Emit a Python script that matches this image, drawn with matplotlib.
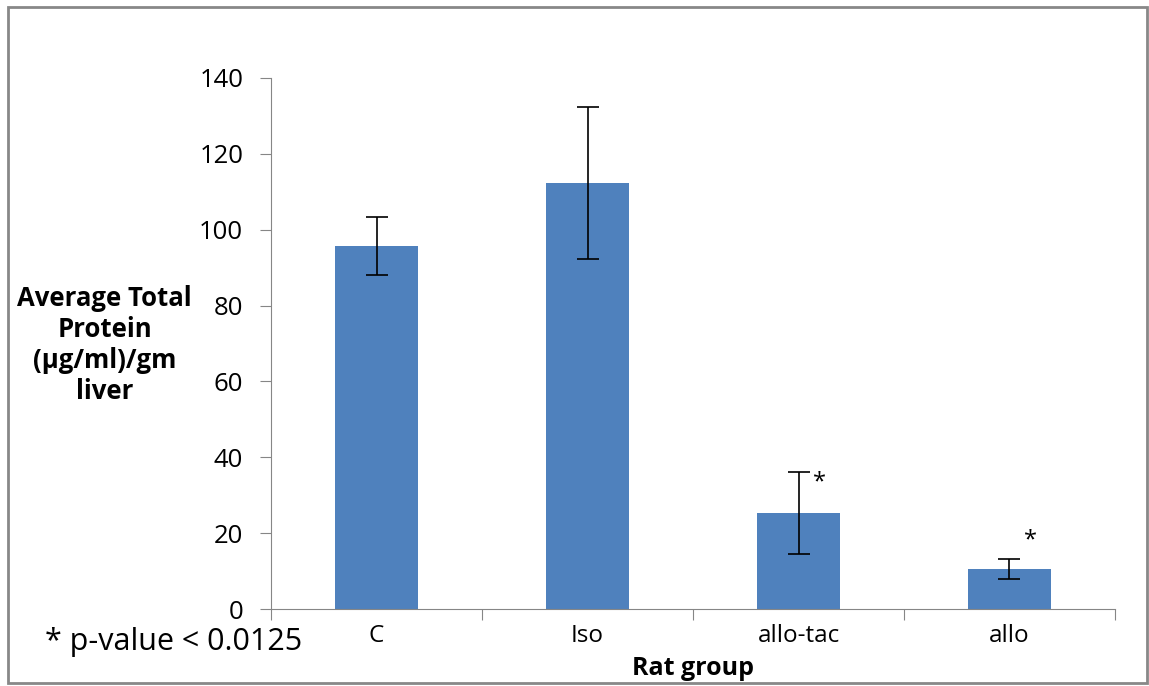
import matplotlib.pyplot as plt
import numpy as np
from matplotlib.patches import Rectangle

plt.rcParams['font.family'] = ['Open Sans', 'DejaVu Sans']

groups = ["C", "Iso", "allo-tac", "allo"]
means = [95.7, 112.3, 25.3, 10.5]
errors = [7.7, 20.0, 10.8, 2.7]
star_groups = [2, 3]
star_y = [33.5, 18.2]

fig = plt.figure(figsize=(11.49, 6.86), dpi=100)
ax = fig.add_axes([0.2359, 0.1122, 0.9704 - 0.2359, 0.8863 - 0.1122])

x_pos = np.arange(len(groups))
ax.bar(x_pos, means, 0.39, color="#4F81BD", zorder=2)
ax.errorbar(x_pos, means, yerr=errors, fmt="none", ecolor="black",
            elinewidth=1.2, capsize=8, capthick=1.2, zorder=3)

for g, y in zip(star_groups, star_y):
    ax.text(g + 0.1, y, "*", ha="center", va="center", fontsize=17)

ax.set_xlim(-0.5, 3.5)
ax.set_ylim(0, 140)
ax.set_yticks(range(0, 141, 20))
ax.set_xticks(np.arange(-0.5, 4, 1))
ax.set_xticklabels([])
ax.set_xticks(x_pos, minor=True)
ax.set_xticklabels(groups, minor=True, fontsize=17.5)
ax.tick_params(axis="x", which="minor", length=0, pad=11)
ax.tick_params(axis="x", which="major", length=8, color="#868686", direction="out")
ax.tick_params(axis="y", length=8, color="#868686", labelsize=18.5, pad=12)

for s in ["top", "right"]:
    ax.spines[s].set_visible(False)
for s in ["left", "bottom"]:
    ax.spines[s].set_color("#868686")

fig.text(0.091, 0.497, "Average Total\nProtein\n(µg/ml)/gm\nliver", ha="center", va="center",
         fontsize=18.5, fontweight="bold", linespacing=1.2)
fig.text(0.039, 0.064, "* p-value < 0.0125", ha="left", va="center", fontsize=22)
fig.text(0.603, 0.026, "Rat group", ha="center", va="center", fontsize=18, fontweight="bold")

fig.patches.append(Rectangle((8 / 1149, 3 / 686), 1139 / 1149, 676 / 686, transform=fig.transFigure,
                             fill=False, edgecolor="#888888", linewidth=2))

fig.savefig("out.png", dpi=100)
